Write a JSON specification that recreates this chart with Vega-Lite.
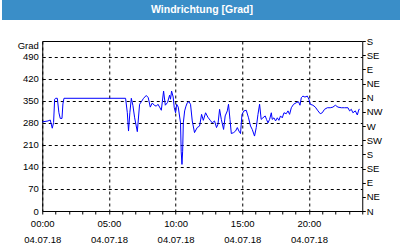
{
  "$schema": "https://vega.github.io/schema/vega-lite/v6.json",
  "padding": 0,
  "background": "white",
  "center": true,
  "spacing": 15,
  "config": {
    "axis": {"labelFont": "Liberation Sans", "labelFontSize": 9.5, "labelColor": "black"}
  },
  "vconcat": [
    {
      "width": 440,
      "height": 20,
      "view": {"fill": "#3a8ec8", "stroke": null},
      "data": {"values": [{"label": "Windrichtung [Grad]"}]},
      "mark": {"type": "text", "font": "Liberation Sans", "fontSize": 10.5, "fontWeight": "bold", "color": "white", "dx": -20},
      "encoding": {"text": {"field": "label"}}
    },
    {
      "width": 320,
      "height": 170,
      "view": {"fill": "white", "stroke": "black", "strokeWidth": 1},
      "data": {
        "values": [
          {"h": 0.00, "v": 283}, {"h": 0.43, "v": 286}, {"h": 0.60, "v": 289}, {"h": 0.75, "v": 263},
          {"h": 0.85, "v": 281}, {"h": 0.93, "v": 355}, {"h": 1.00, "v": 358}, {"h": 1.13, "v": 358},
          {"h": 1.25, "v": 312}, {"h": 1.35, "v": 294}, {"h": 1.48, "v": 294}, {"h": 1.55, "v": 340},
          {"h": 1.63, "v": 358}, {"h": 6.25, "v": 358}, {"h": 6.38, "v": 312}, {"h": 6.47, "v": 254},
          {"h": 6.57, "v": 312}, {"h": 6.68, "v": 358}, {"h": 6.80, "v": 335}, {"h": 6.93, "v": 296},
          {"h": 7.13, "v": 252}, {"h": 7.30, "v": 339}, {"h": 7.43, "v": 347}, {"h": 7.60, "v": 358},
          {"h": 7.80, "v": 367}, {"h": 7.95, "v": 360}, {"h": 8.10, "v": 330}, {"h": 8.25, "v": 343},
          {"h": 8.40, "v": 336}, {"h": 8.55, "v": 333}, {"h": 8.68, "v": 339}, {"h": 8.80, "v": 330},
          {"h": 8.93, "v": 320}, {"h": 9.10, "v": 381}, {"h": 9.23, "v": 336}, {"h": 9.40, "v": 345},
          {"h": 9.55, "v": 368}, {"h": 9.62, "v": 355}, {"h": 9.70, "v": 381}, {"h": 9.82, "v": 362},
          {"h": 9.90, "v": 328}, {"h": 10.00, "v": 312}, {"h": 10.08, "v": 339}, {"h": 10.20, "v": 330},
          {"h": 10.37, "v": 280}, {"h": 10.42, "v": 190}, {"h": 10.48, "v": 148}, {"h": 10.53, "v": 190},
          {"h": 10.58, "v": 280}, {"h": 10.68, "v": 318}, {"h": 10.78, "v": 333}, {"h": 10.88, "v": 344},
          {"h": 11.00, "v": 347}, {"h": 11.12, "v": 339}, {"h": 11.25, "v": 286}, {"h": 11.42, "v": 249},
          {"h": 11.62, "v": 265}, {"h": 11.80, "v": 270}, {"h": 11.95, "v": 307}, {"h": 12.08, "v": 288},
          {"h": 12.25, "v": 312}, {"h": 12.42, "v": 298}, {"h": 12.60, "v": 288}, {"h": 12.75, "v": 280},
          {"h": 12.92, "v": 286}, {"h": 13.07, "v": 265}, {"h": 13.18, "v": 276}, {"h": 13.30, "v": 323},
          {"h": 13.43, "v": 291}, {"h": 13.60, "v": 259}, {"h": 13.72, "v": 302}, {"h": 13.88, "v": 318},
          {"h": 13.97, "v": 339}, {"h": 14.08, "v": 291}, {"h": 14.18, "v": 246}, {"h": 14.35, "v": 249},
          {"h": 14.50, "v": 254}, {"h": 14.63, "v": 265}, {"h": 14.75, "v": 254}, {"h": 14.87, "v": 246},
          {"h": 14.98, "v": 307}, {"h": 15.13, "v": 318}, {"h": 15.30, "v": 320}, {"h": 15.47, "v": 296},
          {"h": 15.62, "v": 270}, {"h": 15.75, "v": 259}, {"h": 15.92, "v": 238}, {"h": 16.05, "v": 265},
          {"h": 16.18, "v": 307}, {"h": 16.30, "v": 339}, {"h": 16.42, "v": 291}, {"h": 16.55, "v": 296},
          {"h": 16.72, "v": 302}, {"h": 16.82, "v": 291}, {"h": 16.93, "v": 280}, {"h": 17.05, "v": 291},
          {"h": 17.18, "v": 312}, {"h": 17.25, "v": 291}, {"h": 17.38, "v": 296}, {"h": 17.50, "v": 286},
          {"h": 17.63, "v": 296}, {"h": 17.75, "v": 288}, {"h": 17.87, "v": 302}, {"h": 18.00, "v": 296},
          {"h": 18.13, "v": 312}, {"h": 18.30, "v": 309}, {"h": 18.43, "v": 318}, {"h": 18.55, "v": 307},
          {"h": 18.68, "v": 328}, {"h": 18.85, "v": 339}, {"h": 19.05, "v": 344}, {"h": 19.22, "v": 347},
          {"h": 19.33, "v": 336}, {"h": 19.43, "v": 360}, {"h": 19.55, "v": 365}, {"h": 19.70, "v": 362},
          {"h": 19.88, "v": 365}, {"h": 20.00, "v": 355}, {"h": 20.10, "v": 339}, {"h": 20.30, "v": 336},
          {"h": 20.48, "v": 330}, {"h": 20.68, "v": 318}, {"h": 20.85, "v": 309}, {"h": 21.00, "v": 312},
          {"h": 21.17, "v": 323}, {"h": 21.38, "v": 328}, {"h": 21.60, "v": 328}, {"h": 21.80, "v": 330},
          {"h": 21.98, "v": 336}, {"h": 22.18, "v": 330}, {"h": 22.43, "v": 328}, {"h": 22.68, "v": 328},
          {"h": 22.93, "v": 328}, {"h": 23.05, "v": 318}, {"h": 23.18, "v": 323}, {"h": 23.30, "v": 312},
          {"h": 23.48, "v": 318}, {"h": 23.63, "v": 305}, {"h": 23.75, "v": 323}, {"h": 23.80, "v": 323}
        ]
      },
      "encoding": {
        "x": {
          "field": "h",
          "type": "quantitative",
          "title": null,
          "scale": {"domain": [0, 24], "nice": false, "zero": false},
          "axis": {
            "values": [0, 1, 2, 3, 4, 5, 6, 7, 8, 9, 10, 11, 12, 13, 14, 15, 16, 17, 18, 19, 20, 21, 22, 23, 24],
            "labelExpr": "(datum.value % 5 == 0 && datum.value < 24) ? [(datum.value < 10 ? '0' : '') + datum.value + ':00', '04.07.18'] : ''",
            "labelOverlap": false,
            "labelFlush": false,
            "labelLineHeight": 16,
            "labelPadding": 4,
            "tickSize": 3,
            "tickColor": "black",
            "domain": false,
            "grid": true,
            "gridColor": "black",
            "gridDash": [3, 3],
            "gridOpacity": {"condition": {"test": "datum.value % 5 == 0", "value": 1}, "value": 0},
            "title": null
          }
        }
      },
      "layer": [
        {
          "mark": {"type": "line", "color": "#0000ff", "strokeWidth": 1},
          "encoding": {
            "y": {
              "field": "v",
              "type": "quantitative",
              "scale": {"domain": [0, 540], "nice": false},
              "axis": {
                "orient": "left",
                "values": [0, 70, 140, 210, 280, 350, 420, 490],
                "grid": true,
                "gridColor": "black",
                "gridDash": [3, 3],
                "ticks": false,
                "domain": false,
                "labelPadding": 4,
                "minExtent": 41,
                "title": "Grad",
                "titleAngle": 0,
                "titleAlign": "right",
                "titleBaseline": "middle",
                "titleX": -4,
                "titleY": 4,
                "titleFontWeight": "normal",
                "titleFontSize": 9.5,
                "titleFont": "Liberation Sans",
                "titleColor": "black"
              }
            }
          }
        },
        {
          "mark": {"type": "line", "opacity": 0},
          "encoding": {
            "y": {
              "field": "v",
              "type": "quantitative",
              "scale": {"domain": [0, 540], "nice": false},
              "axis": {
                "orient": "right",
                "values": [0, 45, 90, 135, 180, 225, 270, 315, 360, 405, 450, 495, 540],
                "labelExpr": "['N','NE','E','SE','S','SW','W','NW'][round(datum.value / 45) % 8]",
                "grid": false,
                "domain": false,
                "tickSize": 3,
                "tickColor": "black",
                "labelPadding": 1,
                "minExtent": 39,
                "title": null
              }
            }
          }
        }
      ],
      "resolve": {"scale": {"y": "shared"}, "axis": {"y": "independent"}}
    }
  ]
}
